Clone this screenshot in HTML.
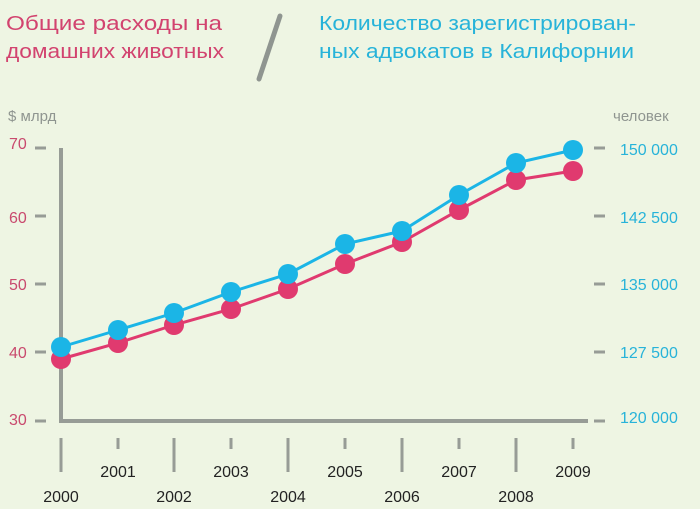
<!DOCTYPE html>
<html><head><meta charset="utf-8"><style>
html,body{margin:0;padding:0;background:#eef5e3;}
svg{display:block;font-family:"Liberation Sans","DejaVu Sans",sans-serif;}
</style></head><body>
<svg width="700" height="509" viewBox="0 0 700 509">
<rect width="700" height="509" fill="#eef5e3"/>
<g font-size="20" fill="#d2436f">
<text x="6" y="30" textLength="216" lengthAdjust="spacingAndGlyphs">Общие расходы на</text>
<text x="6" y="58" textLength="218" lengthAdjust="spacingAndGlyphs">домашних животных</text>
</g>
<g font-size="20" fill="#27b3d9">
<text x="319" y="30" textLength="317" lengthAdjust="spacingAndGlyphs">Количество зарегистрирован-</text>
<text x="319" y="58" textLength="315" lengthAdjust="spacingAndGlyphs">ных  адвокатов в Калифорнии</text>
</g>
<line x1="280" y1="16" x2="259" y2="79" stroke="#8f9590" stroke-width="5" stroke-linecap="round"/>
<text x="8" y="121" font-size="15" fill="#8f9590">$ млрд</text>
<text x="613" y="121" font-size="15" fill="#8f9590">человек</text>
<g stroke="#979c96" stroke-width="4" fill="none">
<path d="M61 148 V421 H588"/>
</g>
<g stroke="#979c96" stroke-width="3">
<line x1="35" y1="148" x2="46" y2="148"/><line x1="35" y1="216" x2="46" y2="216"/><line x1="35" y1="284" x2="46" y2="284"/><line x1="35" y1="352" x2="46" y2="352"/><line x1="35" y1="421" x2="46" y2="421"/>
<line x1="594" y1="148" x2="605" y2="148"/><line x1="594" y1="216" x2="605" y2="216"/><line x1="594" y1="284" x2="605" y2="284"/><line x1="594" y1="352" x2="605" y2="352"/><line x1="594" y1="421" x2="605" y2="421"/>
<line x1="61" y1="438" x2="61" y2="472"/><line x1="174" y1="438" x2="174" y2="472"/><line x1="288" y1="438" x2="288" y2="472"/><line x1="402" y1="438" x2="402" y2="472"/><line x1="516" y1="438" x2="516" y2="472"/>
<line x1="118" y1="438" x2="118" y2="449"/><line x1="231" y1="438" x2="231" y2="449"/><line x1="345" y1="438" x2="345" y2="449"/><line x1="459" y1="438" x2="459" y2="449"/><line x1="573" y1="438" x2="573" y2="449"/>
</g>
<g font-size="16" fill="#c94a6e">
<text x="9" y="149">70</text><text x="9" y="223">60</text><text x="9" y="290">50</text><text x="9" y="358">40</text><text x="9" y="425">30</text>
</g>
<g font-size="16" fill="#27b3d9">
<text x="620" y="155">150 000</text><text x="620" y="223">142 500</text><text x="620" y="290">135 000</text><text x="620" y="358">127 500</text><text x="620" y="423">120 000</text>
</g>
<g font-size="16" fill="#222" text-anchor="middle">
<text x="61" y="502">2000</text><text x="118" y="477">2001</text><text x="174" y="502">2002</text><text x="231" y="477">2003</text><text x="288" y="502">2004</text><text x="345" y="477">2005</text><text x="402" y="502">2006</text><text x="459" y="477">2007</text><text x="516" y="502">2008</text><text x="573" y="477">2009</text>
</g>
<polyline fill="none" stroke="#e03a6f" stroke-width="3" points="61,359 118,343 174,325 231,309 288,289 345,264 402,242 459,210 516,180 573,171"/>
<g fill="#e03a6f">
<circle cx="61" cy="359" r="10"/><circle cx="118" cy="343" r="10"/><circle cx="174" cy="325" r="10"/><circle cx="231" cy="309" r="10"/><circle cx="288" cy="289" r="10"/><circle cx="345" cy="264" r="10"/><circle cx="402" cy="242" r="10"/><circle cx="459" cy="210" r="10"/><circle cx="516" cy="180" r="10"/><circle cx="573" cy="171" r="10"/>
</g>
<polyline fill="none" stroke="#1bb5e6" stroke-width="3" points="61,347 118,330 174,313 231,292 288,274 345,244 402,231 459,195 516,163 573,150"/>
<g fill="#1bb5e6">
<circle cx="61" cy="347" r="10"/><circle cx="118" cy="330" r="10"/><circle cx="174" cy="313" r="10"/><circle cx="231" cy="292" r="10"/><circle cx="288" cy="274" r="10"/><circle cx="345" cy="244" r="10"/><circle cx="402" cy="231" r="10"/><circle cx="459" cy="195" r="10"/><circle cx="516" cy="163" r="10"/><circle cx="573" cy="150" r="10"/>
</g>
</svg>
</body></html>
